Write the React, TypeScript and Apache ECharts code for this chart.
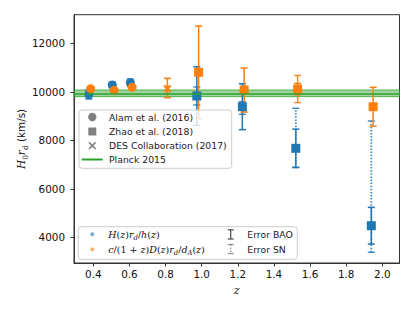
import React, { useEffect, useRef } from "react";
import * as echarts from "echarts";

// ---------- data ----------
// Alam et al. (2016)
const alamZ = [0.38, 0.51, 0.61];
const alamH = [9890, 10280, 10375];
const alamHErr = [185, 115, 150];
const alamD = [10128, 10062, 10186];
const alamDErr = [60, 60, 60];

// DES Collaboration (2017)
const desZ = [0.81];
const desD = [10130];
const desDLow = [9757];
const desDHigh = [10557];

// Zhao et al. (2018)
const zhaoZ = [0.978, 1.23, 1.526, 1.944];
const zhaoH = [9827, 9386, 7670, 4478];
const zhaoHBaoErr = [1208, 946, 790, 757];
const zhaoHSnLow = [9455, 9072, 6880, 3381];
const zhaoHSnHigh = [10199, 9592, 9320, 8796];
const zhaoD = [10804, 10074, 10115, 9386];
const zhaoDBaoErr = [1910, 910, 235, 800];
const zhaoDSnLow = [null, null, 9555, null];
const zhaoDSnHigh = [null, null, 10675, null];

// Planck 2015
const planckValue = 9940;
const planckLow = 9800;
const planckHigh = 10075;

const xTicks = [0.4, 0.6, 0.8, 1.0, 1.2, 1.4, 1.6, 1.8, 2.0];
const yTicks = [4000, 6000, 8000, 10000, 12000];
const xRange = [0.293, 2.095];
const yRange = [2940, 13180];

// ---------- styles ----------
const BLUE = "#1f77b4";
const ORANGE = "#ff7f0e";
const GREEN = "#2ca02c";
const GREY = "#808080";
const SANS = "DejaVu Sans";
const SERIF = "DejaVu Serif";
const DX = 0.005;

function errRenderer(color: string, dashed: boolean, opacity: number) {
  return (params: any, api: any) => {
    const x = api.value(0);
    const lo = api.value(1);
    const hi = api.value(2);
    const p1 = api.coord([x, lo]);
    const p2 = api.coord([x, hi]);
    const cap = 3.5;
    const style: any = { stroke: color, lineWidth: 1.5, opacity, fill: null };
    const lineStyle: any = dashed ? { ...style, lineDash: [1.5, 1.6], lineWidth: 1.8 } : style;
    return {
      type: "group",
      children: [
        { type: "line", shape: { x1: p1[0], y1: p1[1], x2: p2[0], y2: p2[1] }, style: lineStyle },
        { type: "line", shape: { x1: p1[0] - cap, y1: p1[1], x2: p1[0] + cap, y2: p1[1] }, style },
        { type: "line", shape: { x1: p2[0] - cap, y1: p2[1], x2: p2[0] + cap, y2: p2[1] }, style },
      ],
    };
  };
}

function errSeries(data: number[][], color: string, dashed: boolean, opacity: number, z: number) {
  return {
    type: "custom",
    renderItem: errRenderer(color, dashed, opacity),
    data,
    encode: { x: 0, y: [1, 2] },
    z,
    silent: true,
  };
}

const X_PATH = "path://M2,0L5,3L8,0L10,2L7,5L10,8L8,10L5,7L2,10L0,8L3,5L0,2Z";

const mathRich: any = {
  i: { fontFamily: SERIF, fontStyle: "italic", fontSize: 9.5, lineHeight: 14, verticalAlign: "middle", fill: "#111" },
  n: { fontFamily: SERIF, fontSize: 9.5, lineHeight: 14, verticalAlign: "middle", fill: "#111" },
  s: { fontFamily: SERIF, fontStyle: "italic", fontSize: 6.8, lineHeight: 7, verticalAlign: "bottom", fill: "#111" },
};

const ylabRich: any = {
  i: { fontFamily: SERIF, fontStyle: "italic", fontSize: 10.6, lineHeight: 15, verticalAlign: "middle", fill: "#111" },
  s: { fontFamily: SERIF, fontSize: 7.4, lineHeight: 8, verticalAlign: "bottom", fill: "#111" },
  t: { fontFamily: SANS, fontSize: 10.4, lineHeight: 15, verticalAlign: "middle", fill: "#111" },
};

export default function App() {
  const ref = useRef<HTMLDivElement>(null);
  useEffect(() => {
    if (!ref.current) return;
    const chart = echarts.init(ref.current, null, { renderer: "svg" });

    const alamHErrData = alamZ.map((z, i) => [z - DX, alamH[i] - alamHErr[i], alamH[i] + alamHErr[i]]);
    const alamDErrData = alamZ.map((z, i) => [z + DX, alamD[i] - alamDErr[i], alamD[i] + alamDErr[i]]);
    const desErrData = desZ.map((z, i) => [z, desDLow[i], desDHigh[i]]);
    const zhaoHBaoData = zhaoZ.map((z, i) => [z - DX, zhaoH[i] - zhaoHBaoErr[i], zhaoH[i] + zhaoHBaoErr[i]]);
    const zhaoHSnData = zhaoZ.map((z, i) => [z - DX, zhaoHSnLow[i], zhaoHSnHigh[i]]);
    const zhaoDBaoData = zhaoZ.map((z, i) => [z + DX, zhaoD[i] - zhaoDBaoErr[i], zhaoD[i] + zhaoDBaoErr[i]]);
    const zhaoDSnData = zhaoZ
      .map((z, i) => [z + DX, zhaoDSnLow[i], zhaoDSnHigh[i]])
      .filter((d) => d[1] != null) as number[][];

    const legendBox = (x: number, y: number, w: number, h: number) => ({
      type: "rect",
      shape: { x, y, width: w, height: h, r: 3 },
      style: { fill: "rgba(255,255,255,0.8)", stroke: "#cccccc", lineWidth: 1 },
      z: 100,
    });
    const txt = (x: number, y: number, text: string) => ({
      type: "text",
      x,
      y,
      style: { text, fontFamily: SANS, fontSize: 9.3, fill: "#222", align: "left", verticalAlign: "middle" },
      z: 101,
    });
    const vbar = (x: number, y1: number, y2: number, color: string, opacity: number, dashed: boolean) => [
      { type: "line", shape: { x1: x, y1, x2: x, y2 }, style: { stroke: color, lineWidth: 1.3, opacity, lineDash: dashed ? [1.5, 1.5] : null }, z: 101 },
      { type: "line", shape: { x1: x - 3, y1, x2: x + 3, y2: y1 }, style: { stroke: color, lineWidth: 1.3, opacity }, z: 101 },
      { type: "line", shape: { x1: x - 3, y1: y2, x2: x + 3, y2 }, style: { stroke: color, lineWidth: 1.3, opacity }, z: 101 },
    ];

    const option: any = {
      animation: false,
      grid: {
        left: 74,
        right: 15.5,
        top: 14.7,
        bottom: 48,
        show: true,
        borderColor: "#333",
        borderWidth: 1,
        backgroundColor: "transparent",
      },
      xAxis: {
        type: "value",
        min: xRange[0],
        max: xRange[1],
        name: "z",
        nameLocation: "middle",
        nameGap: 22,
        nameTextStyle: { fontFamily: SERIF, fontStyle: "italic", fontSize: 11, color: "#111" },
        axisLine: { show: true, onZero: false, lineStyle: { color: "#333", width: 1 } },
        axisTick: { show: true, inside: false, length: 3.5, customValues: xTicks, lineStyle: { color: "#333" } },
        axisLabel: {
          customValues: xTicks,
          formatter: (v: number) => v.toFixed(1),
          fontFamily: SANS,
          fontSize: 10.4,
          color: "#111",
          margin: 6,
        },
        splitLine: { show: false },
      },
      yAxis: {
        type: "value",
        min: yRange[0],
        max: yRange[1],
        axisLine: { show: true, onZero: false, lineStyle: { color: "#333", width: 1 } },
        axisTick: { show: true, inside: false, length: 3.5, customValues: yTicks, lineStyle: { color: "#333" } },
        axisLabel: {
          customValues: yTicks,
          formatter: (v: number) => String(Math.round(v)),
          fontFamily: SANS,
          fontSize: 10.4,
          color: "#111",
          margin: 9,
        },
        splitLine: { show: false },
      },
      series: [
        {
          type: "line",
          data: [],
          silent: true,
          z: 1,
          markArea: {
            silent: true,
            itemStyle: { color: "rgba(44,160,44,0.45)", borderColor: "rgba(44,160,44,0.75)", borderWidth: 1 },
            data: [[{ yAxis: planckLow }, { yAxis: planckHigh }]],
          },
          markLine: {
            silent: true,
            symbol: "none",
            label: { show: false },
            lineStyle: { color: GREEN, width: 1.6, type: "solid" },
            data: [{ yAxis: planckValue }],
          },
        },
        errSeries(alamHErrData, BLUE, false, 1, 2),
        errSeries(zhaoHBaoData, BLUE, false, 1, 2),
        errSeries(zhaoHSnData, BLUE, true, 0.85, 2),
        errSeries(alamDErrData, ORANGE, false, 1, 2),
        errSeries(desErrData, ORANGE, false, 1, 2),
        errSeries(zhaoDBaoData, ORANGE, false, 1, 2),
        errSeries(zhaoDSnData, ORANGE, false, 0.9, 2),
        {
          type: "scatter",
          data: alamZ.map((z, i) => [z - DX, alamH[i]]),
          symbol: "circle",
          symbolSize: 9,
          itemStyle: { color: BLUE, opacity: 1 },
          z: 3,
        },
        {
          type: "scatter",
          data: zhaoZ.map((z, i) => [z - DX, zhaoH[i]]),
          symbol: "rect",
          symbolSize: 9,
          itemStyle: { color: BLUE, opacity: 1 },
          z: 3,
        },
        {
          type: "scatter",
          data: alamZ.map((z, i) => [z + DX, alamD[i]]),
          symbol: "circle",
          symbolSize: 9,
          itemStyle: { color: ORANGE, opacity: 1 },
          z: 4,
        },
        {
          type: "scatter",
          data: zhaoZ.map((z, i) => [z + DX, zhaoD[i]]),
          symbol: "rect",
          symbolSize: 9,
          itemStyle: { color: ORANGE, opacity: 1 },
          z: 4,
        },
        {
          type: "scatter",
          data: desZ.map((z, i) => [z, desD[i]]),
          symbol: X_PATH,
          symbolSize: 8,
          itemStyle: { color: ORANGE, opacity: 1 },
          z: 4,
        },
      ],
      graphic: [
        // y axis label
        {
          type: "text",
          x: 21,
          y: 139,
          rotation: Math.PI / 2,
          style: {
            text: "{i|H}{s|0}{i|r}{s|d}{t| (km/s)}",
            rich: ylabRich,
            align: "center",
            verticalAlign: "middle",
          },
          z: 101,
        },
        // legend 1
        legendBox(79, 110, 152.7, 58.3),
        { type: "circle", shape: { cx: 92.3, cy: 117, r: 4.2 }, style: { fill: GREY }, z: 101 },
        { type: "rect", shape: { x: 88.3, y: 127.5, width: 8, height: 8 }, style: { fill: GREY }, z: 101 },
        { type: "line", shape: { x1: 89, y1: 142.4, x2: 95.6, y2: 149 }, style: { stroke: GREY, lineWidth: 1.5 }, z: 101 },
        { type: "line", shape: { x1: 95.6, y1: 142.4, x2: 89, y2: 149 }, style: { stroke: GREY, lineWidth: 1.5 }, z: 101 },
        { type: "line", shape: { x1: 81.7, y1: 159.5, x2: 102.7, y2: 159.5 }, style: { stroke: GREEN, lineWidth: 2 }, z: 101 },
        txt(109, 117, "Alam et al. (2016)"),
        txt(109, 131.5, "Zhao et al. (2018)"),
        txt(109, 145.7, "DES Collaboration (2017)"),
        txt(109, 159.5, "Planck 2015"),
        // legend 2
        legendBox(78.3, 226.7, 219, 32.6),
        { type: "circle", shape: { cx: 92.3, cy: 234.3, r: 2 }, style: { fill: BLUE, opacity: 0.6 }, z: 101 },
        { type: "circle", shape: { cx: 92.3, cy: 249.3, r: 2 }, style: { fill: ORANGE, opacity: 0.6 }, z: 101 },
        {
          type: "text",
          x: 108.3,
          y: 234.3,
          style: {
            text: "{i|H}{n|(}{i|z}{n|)}{i|r}{s|d}{n|/}{i|h}{n|(}{i|z}{n|)}",
            rich: mathRich,
            align: "left",
            verticalAlign: "middle",
          },
          z: 101,
        },
        {
          type: "text",
          x: 108.3,
          y: 249.3,
          style: {
            text: "{i|c}{n|/(1 + }{i|z}{n|)}{i|D}{n|(}{i|z}{n|)}{i|r}{s|d}{n|/}{i|d}{s|A}{n|(}{i|z}{n|)}",
            rich: mathRich,
            align: "left",
            verticalAlign: "middle",
          },
          z: 101,
        },
        ...vbar(230.7, 229.8, 239, "#555", 1, false),
        ...vbar(230.7, 244.5, 253.5, "#555", 0.6, true),
        txt(247.3, 234.3, "Error BAO"),
        txt(247.3, 249.3, "Error SN"),
      ],
    };
    chart.setOption(option);
    return () => chart.dispose();
  }, []);
  return <div ref={ref} style={{ width: 415, height: 311, position: "absolute", left: 0, top: 0 }} />;
}
